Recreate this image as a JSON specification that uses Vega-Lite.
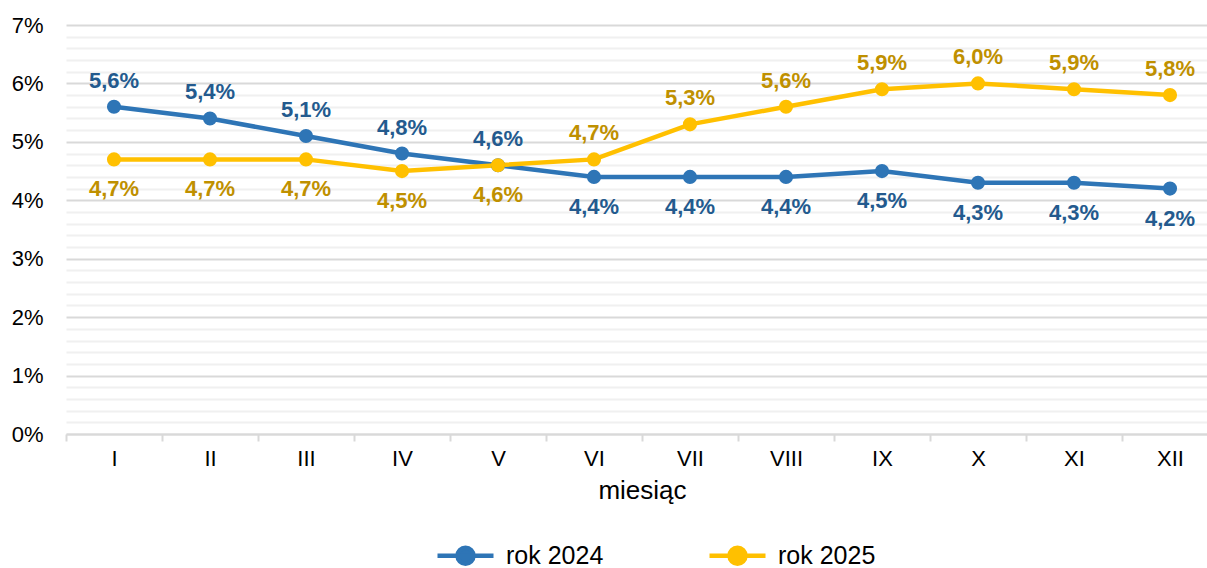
{
  "$schema": "https://vega.github.io/schema/vega-lite/v6.json",
  "autosize": "none",
  "padding": {"left": 66, "top": 25, "right": 0, "bottom": 134},
  "width": 1152,
  "height": 409,
  "background": "white",
  "config": {
    "font": "Liberation Sans",
    "view": {"stroke": null}
  },
  "data": {
    "values": [
      {"miesiac": "I", "rok": "rok 2024", "value": 5.6},
      {"miesiac": "II", "rok": "rok 2024", "value": 5.4},
      {"miesiac": "III", "rok": "rok 2024", "value": 5.1},
      {"miesiac": "IV", "rok": "rok 2024", "value": 4.8},
      {"miesiac": "V", "rok": "rok 2024", "value": 4.6},
      {"miesiac": "VI", "rok": "rok 2024", "value": 4.4},
      {"miesiac": "VII", "rok": "rok 2024", "value": 4.4},
      {"miesiac": "VIII", "rok": "rok 2024", "value": 4.4},
      {"miesiac": "IX", "rok": "rok 2024", "value": 4.5},
      {"miesiac": "X", "rok": "rok 2024", "value": 4.3},
      {"miesiac": "XI", "rok": "rok 2024", "value": 4.3},
      {"miesiac": "XII", "rok": "rok 2024", "value": 4.2},
      {"miesiac": "I", "rok": "rok 2025", "value": 4.7},
      {"miesiac": "II", "rok": "rok 2025", "value": 4.7},
      {"miesiac": "III", "rok": "rok 2025", "value": 4.7},
      {"miesiac": "IV", "rok": "rok 2025", "value": 4.5},
      {"miesiac": "V", "rok": "rok 2025", "value": 4.6},
      {"miesiac": "VI", "rok": "rok 2025", "value": 4.7},
      {"miesiac": "VII", "rok": "rok 2025", "value": 5.3},
      {"miesiac": "VIII", "rok": "rok 2025", "value": 5.6},
      {"miesiac": "IX", "rok": "rok 2025", "value": 5.9},
      {"miesiac": "X", "rok": "rok 2025", "value": 6.0},
      {"miesiac": "XI", "rok": "rok 2025", "value": 5.9},
      {"miesiac": "XII", "rok": "rok 2025", "value": 5.8}
    ]
  },
  "transform": [
    {"joinaggregate": [{"op": "max", "field": "value", "as": "mx"}, {"op": "min", "field": "value", "as": "mn"}], "groupby": ["miesiac"]},
    {"calculate": "(datum.value > datum.mn) || (datum.mx == datum.mn && datum.rok == 'rok 2024')", "as": "above"},
    {"calculate": "replace(format(datum.value, '.1f'), '.', ',') + '%'", "as": "lab"}
  ],
  "encoding": {
    "x": {
      "field": "miesiac",
      "type": "nominal",
      "sort": null,
      "scale": {"type": "band", "paddingInner": 0, "paddingOuter": 0},
      "axis": {
        "title": "miesiąc",
        "labelAngle": 0,
        "labelFontSize": 22,
        "labelColor": "#000000",
        "labelPadding": 7,
        "titleFontSize": 26,
        "titleFontWeight": "normal",
        "titleColor": "#000000",
        "titlePadding": 8,
        "domainColor": "#D9D9D9",
        "domainWidth": 2,
        "tickColor": "#D9D9D9",
        "tickWidth": 2,
        "tickSize": 7,
        "tickBand": "extent",
        "grid": false
      }
    },
    "y": {
      "field": "value",
      "type": "quantitative",
      "scale": {"domain": [0, 7], "nice": false},
      "axis": {
        "title": null,
        "values": [0,0.2,0.4,0.6,0.8,1,1.2,1.4,1.6,1.8,2,2.2,2.4,2.6,2.8,3,3.2,3.4,3.6,3.8,4,4.2,4.4,4.6,4.8,5,5.2,5.4,5.6,5.8,6,6.2,6.4,6.6,6.8,7],
        "labelExpr": "abs(datum.value - round(datum.value)) < 0.001 ? format(datum.value, 'd') + '%' : ''",
        "labelFontSize": 22,
        "labelColor": "#000000",
        "labelPadding": 23,
        "ticks": false,
        "domain": false,
        "grid": true,
        "gridWidth": 2,
        "gridColor": {"condition": {"test": "abs(datum.value - round(datum.value)) < 0.001", "value": "#D9D9D9"}, "value": "#F0F0F0"}
      }
    },
    "color": {
      "field": "rok",
      "type": "nominal",
      "scale": {"domain": ["rok 2024", "rok 2025"], "range": ["#2E75B6", "#FFC000"]},
      "legend": {
        "title": null,
        "orient": "none",
        "direction": "horizontal",
        "legendX": 383,
        "legendY": 514,
        "symbolType": "M-2,0H2M0.57,0A0.57,0.57,0,1,1,-0.57,0A0.57,0.57,0,1,1,0.57,0Z",
        "symbolSize": 784,
        "symbolStrokeWidth": 4.5,
        "labelFontSize": 25,
        "labelColor": "#000000",
        "labelOffset": 24,
        "columnPadding": 96,
        "encode": {
          "symbols": {
            "update": {
              "stroke": {"scale": "color", "field": "value"},
              "fill": {"scale": "color", "field": "value"},
              "strokeWidth": {"value": 4.5},
              "opacity": {"value": 1}
            }
          }
        }
      }
    }
  },
  "layer": [
    {"mark": {"type": "line", "strokeWidth": 4.5}},
    {"mark": {"type": "point", "filled": true, "size": 200, "opacity": 1}},
    {
      "transform": [{"filter": "datum.above"}],
      "mark": {"type": "text", "dy": -26, "fontSize": 22, "fontWeight": "bold", "baseline": "middle"},
      "encoding": {
        "text": {"field": "lab"},
        "color": {"condition": {"test": "datum.rok == 'rok 2024'", "value": "#235A8E"}, "value": "#BF9000"}
      }
    },
    {
      "transform": [{"filter": "!datum.above"}],
      "mark": {"type": "text", "dy": 30, "fontSize": 22, "fontWeight": "bold", "baseline": "middle"},
      "encoding": {
        "text": {"field": "lab"},
        "color": {"condition": {"test": "datum.rok == 'rok 2024'", "value": "#235A8E"}, "value": "#BF9000"}
      }
    }
  ]
}
